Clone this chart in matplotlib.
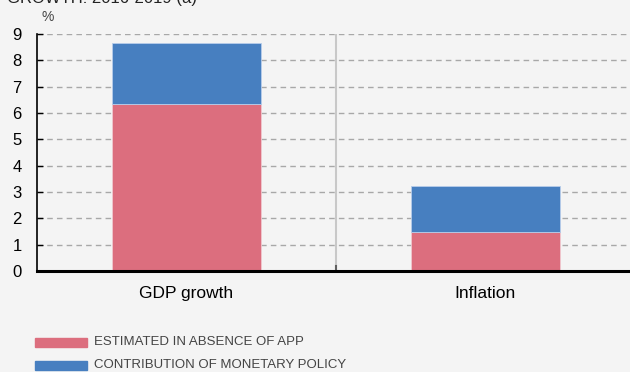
import numpy as np
import matplotlib.pyplot as plt

plt.rcParams['font.family'] = ['Liberation Sans', 'DejaVu Sans']

categories = ['GDP growth', 'Inflation']
absence_app = [6.35, 1.48]        # estimated in absence of APP
monetary = [2.31, 1.75]           # contribution of monetary policy
legend_labels = ['ESTIMATED IN ABSENCE OF APP', 'CONTRIBUTION OF MONETARY POLICY']

red = '#dc6e7e'
blue = '#477fc0'
bg = '#f4f4f4'

fig = plt.figure(figsize=(6.3, 3.72), dpi=100, facecolor=bg)
ax = fig.add_axes([37/630, 101/372, 598/630, 237/372], facecolor=bg)

x = np.arange(len(categories))
ax.bar(x, absence_app, width=0.5, color=red, edgecolor='#f0c8cf', linewidth=0.6, zorder=3)
ax.bar(x, monetary, width=0.5, bottom=absence_app, color=blue, edgecolor='#b8cdea', linewidth=0.6, zorder=3)

ax.set_xlim(-0.5, 1.5)
ax.set_ylim(0, 9)
ax.set_yticks(range(10))
ax.set_xticks(x)
ax.set_xticklabels(categories, fontsize=12.5)
ax.tick_params(axis='x', length=0, pad=11)
ax.tick_params(axis='y', direction='in', length=4, width=1, pad=11, labelsize=12)

for y in range(1, 10):
    ax.axhline(y, color='#a8a8a8', linestyle=(0, (4, 3)), linewidth=1, zorder=1)
ax.axvline(0.5, color='#c8c8c8', linewidth=1.5, zorder=2)
ax.plot([0.5, 0.5], [0, 0.2], color='#606060', linewidth=1.5, zorder=2)

for s in ['top', 'right']:
    ax.spines[s].set_visible(False)
ax.spines['left'].set_linewidth(1.2)
ax.spines['bottom'].set_linewidth(2.2)
ax.spines['bottom'].set_zorder(4)

fig.text(42/630, 1 - 17/372, '%', fontsize=10, color='#444444', va='center')
# title is cut off at the top edge in the reference
fig.text(7/630, 1 + 2/372, 'GROWTH: 2016-2019 (a)', fontsize=12, color='#222222', va='center')

# legend
for i, (lab, col) in enumerate(zip(legend_labels, [red, blue])):
    yc = 1 - (342 + 23 * i) / 372
    fig.patches.append(plt.Rectangle((35/630, yc - 4.5/372), 52/630, 9/372,
                                     transform=fig.transFigure, color=col))
    fig.text(94/630, yc, lab, fontsize=9.5, color='#444444', va='center')

fig.savefig('out.png', dpi=100, facecolor=bg)
